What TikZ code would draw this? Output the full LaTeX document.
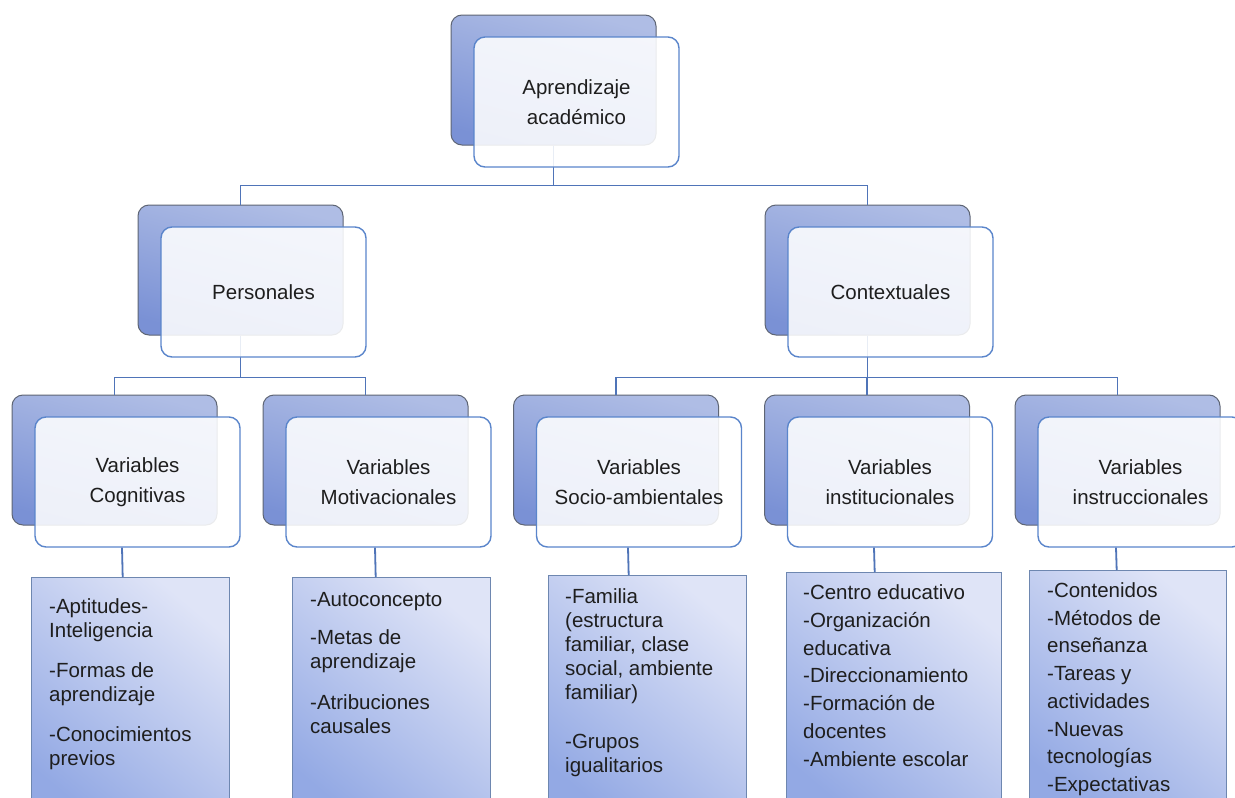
\documentclass[tikz,border=0pt]{standalone}
\usepackage{fontspec}
\setmainfont{Liberation Sans}
\usetikzlibrary{positioning}
\definecolor{backtop}{HTML}{AFBDE5}
\definecolor{backbot}{HTML}{7A91D5}
\definecolor{backline}{HTML}{5E6574}
\definecolor{frontline}{HTML}{5A85CB}
\definecolor{listtop}{HTML}{DFE4F7}
\definecolor{listbot}{HTML}{93A9E4}
\definecolor{listline}{HTML}{6E87B0}
\definecolor{linkcol}{HTML}{4F74B8}
\definecolor{txt}{HTML}{1E1E1E}
\tikzset{
  backbox/.style={draw=backline, line width=1pt, rounded corners=11pt,
    minimum width=205pt, minimum height=130pt,
    top color=backtop, bottom color=backbot, shading angle=-15},
  frontbox/.style={draw=frontline, line width=1.4pt, rounded corners=11pt,
    minimum width=205pt, minimum height=130pt, fill=white, fill opacity=0.87,
    text opacity=1, align=center, text=txt,
    font=\fontsize{20.5}{30}\selectfont},
  listbox/.style={draw=listline, line width=1.4pt, anchor=north west,
    minimum height=250pt, top color=listtop, bottom color=listbot,
    shading angle=-40},
  listtext/.style={anchor=north west, align=left, inner sep=0pt, text=txt,
    font=\fontsize{20.5}{24}\selectfont},
  link/.style={draw=linkcol, line width=1.8pt}
}

\begin{document}
\begin{tikzpicture}[x=1pt, y=-1pt]
  \clip (0,0) rectangle (1235,798);
  \fill[white] (0,0) rectangle (1235,798);

  % Back boxes
  \node[backbox] (aprb) at (553.5,80) {};
  \node[backbox] (persb) at (240.5,270) {};
  \node[backbox] (contb) at (867.5,270) {};
  \node[backbox] (cogb) at (114.5,460) {};
  \node[backbox] (motb) at (365.5,460) {};
  \node[backbox] (socb) at (616,460) {};
  \node[backbox] (instb) at (867,460) {};
  \node[backbox] (instrb) at (1117.5,460) {};

  % Connect the levels
  \draw[link] (aprb.south) -- ++(0,40) -| (persb.north);
  \draw[link] (aprb.south) -- ++(0,40) -| (contb.north);
  \draw[link] (persb.south) -- ++(0,42) -| (cogb.north);
  \draw[link] (persb.south) -- ++(0,42) -| (motb.north);
  \draw[link] (contb.south) -- ++(0,42) -| (socb.north);
  \draw[link] (contb.south) -- ++(0,42) -| (instb.north);
  \draw[link] (contb.south) -- ++(0,42) -| (instrb.north);

  % Front boxes
  \node[frontbox] (apr) at ([xshift=23pt,yshift=-22pt]aprb.center) {Aprendizaje\\académico};
  \node[frontbox] (pers) at ([xshift=23pt,yshift=-22pt]persb.center) {Personales};
  \node[frontbox] (cont) at ([xshift=23pt,yshift=-22pt]contb.center) {Contextuales};
  \node[frontbox] (cog) at ([xshift=23pt,yshift=-22pt]cogb.center) {Variables\\Cognitivas};
  \node[frontbox] (mot) at ([xshift=23pt,yshift=-22pt]motb.center) {Variables\\Motivacionales};
  \node[frontbox] (soc) at ([xshift=23pt,yshift=-22pt]socb.center) {Variables\\Socio-ambientales};
  \node[frontbox] (inst) at ([xshift=23pt,yshift=-22pt]instb.center) {Variables\\institucionales};
  \node[frontbox] (instr) at ([xshift=23pt,yshift=-22pt]instrb.center) {Variables\\instruccionales};

  % Lists
  \node[listbox, minimum width=198pt] (cogl) at (31,577) {};
  \node[listbox, minimum width=198pt] (motl) at (292,577) {};
  \node[listbox, minimum width=198pt] (socl) at (548,575) {};
  \node[listbox, minimum width=215pt] (instl) at (786,572) {};
  \node[listbox, minimum width=197pt] (instrl) at (1029,570) {};

  \draw[link] (cog.south) ++(-15.5,0) -- ([xshift=-8pt]cogl.north);
  \draw[link] (mot.south) ++(-13.5,0) -- ([xshift=-16pt]motl.north);
  \draw[link] (soc.south) ++(-11,0) -- ([xshift=-19pt]socl.north);
  \draw[link] (inst.south) ++(-16,0) -- ([xshift=-19.5pt]instl.north);
  \draw[link] (instr.south) ++(-24.5,0) -- ([xshift=-11.5pt]instrl.north);

  \node[listtext] (cogt) at ([xshift=18pt,yshift=-21.5pt]cogl.north west)
    {-Aptitudes-\\Inteligencia\\[16pt]-Formas de\\aprendizaje\\[16pt]-Conocimientos\\previos};
  \node[listtext] (mott) at ([xshift=18pt,yshift=-15.5pt]motl.north west)
    {-Autoconcepto\\[14pt]-Metas de\\aprendizaje\\[17pt]-Atribuciones\\causales};
  \node[listtext] (soct) at ([xshift=17pt,yshift=-13.5pt]socl.north west)
    {-Familia\\(estructura\\familiar, clase\\social, ambiente\\familiar)\\[25pt]-Grupos\\igualitarios};
  \node[listtext, font=\fontsize{20.5}{27.8}\selectfont] (instt) at ([xshift=17pt,yshift=-12.5pt]instl.north west)
    {-Centro educativo\\-Organización\\educativa\\-Direccionamiento\\-Formación de\\docentes\\-Ambiente escolar};
  \node[listtext, font=\fontsize{20.5}{27.7}\selectfont] (instrt) at ([xshift=18pt,yshift=-12.5pt]instrl.north west)
    {-Contenidos\\-Métodos de\\enseñanza\\-Tareas y\\actividades\\-Nuevas\\tecnologías\\-Expectativas};
\end{tikzpicture}
\end{document}
